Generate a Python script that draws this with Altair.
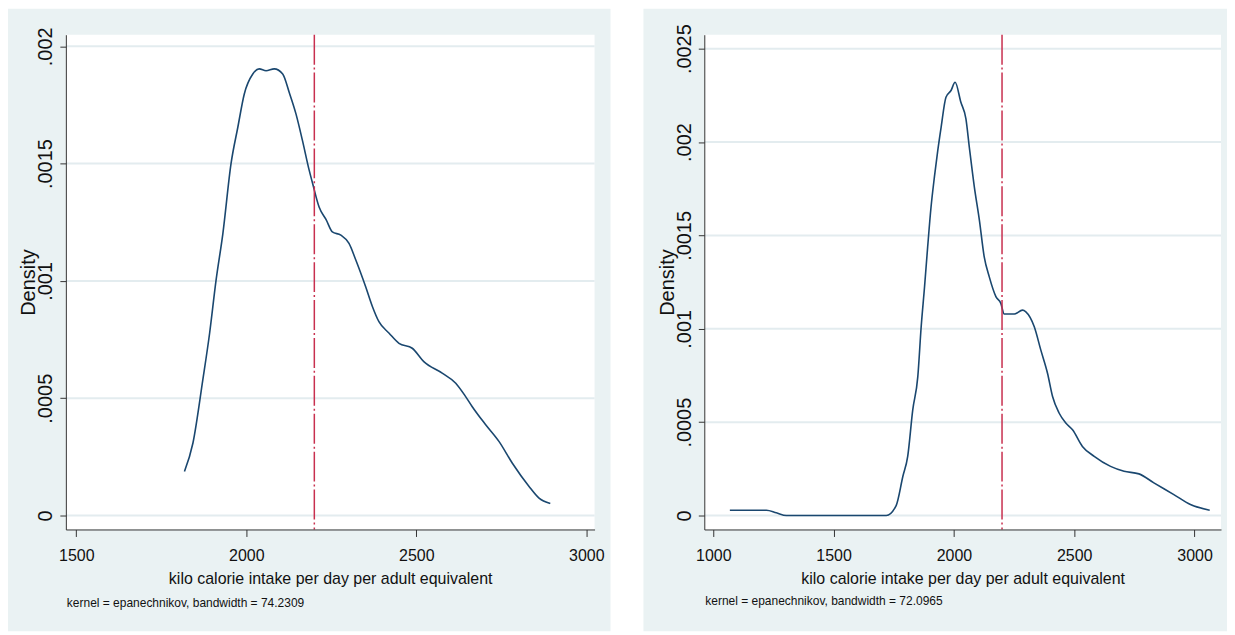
import altair as alt
import pandas as pd

# ---------------- data ----------------
LEFT_KCAL = [1818, 1843, 1872, 1892, 1911, 1931, 1955, 1975, 1994, 2019, 2038, 2058,
             2082, 2107, 2126, 2146, 2165, 2185, 2195, 2214, 2235, 2253, 2278, 2302,
             2322, 2351, 2371, 2390, 2420, 2449, 2488, 2522, 2576, 2616, 2645, 2664,
             2704, 2743, 2782, 2831, 2860, 2894]
LEFT_DENSITY = [0.000188, 0.000309, 0.000578, 0.000777, 0.001003, 0.001202, 0.0015,
                0.001655, 0.001797, 0.001882, 0.001904, 0.001896, 0.001904, 0.001882,
                0.001804, 0.001712, 0.001599, 0.001471, 0.001415, 0.001315, 0.00126,
                0.001209, 0.001195, 0.00116, 0.001089, 0.000975, 0.00089, 0.000826,
                0.000777, 0.000734, 0.000713, 0.000656, 0.000607, 0.000564, 0.000507,
                0.000465, 0.000387, 0.000316, 0.000224, 0.000125, 0.0000752, 0.000051]

RIGHT_KCAL = [1069, 1221, 1262, 1304, 1719, 1760, 1788, 1808, 1829, 1850, 1864, 1878,
              1891, 1905, 1919, 1933, 1947, 1967, 1988, 2005, 2029, 2050, 2064, 2085,
              2106, 2126, 2147, 2175, 2195, 2209, 2251, 2285, 2299, 2334, 2361, 2389,
              2410, 2437, 2465, 2493, 2534, 2583, 2651, 2707, 2769, 2831, 2914, 2983, 3063]
RIGHT_DENSITY = [0.0000283, 0.0000283, 0.0000144, 0.0, 0.0, 0.0000534, 0.00021, 0.000317,
                 0.000566, 0.000744, 0.001011, 0.001225, 0.001439, 0.001652, 0.001813,
                 0.001955, 0.00208, 0.00224, 0.002276, 0.00232, 0.002213, 0.002124,
                 0.001973, 0.001759, 0.001581, 0.001385, 0.001278, 0.001171, 0.001136,
                 0.001079, 0.001079, 0.0011, 0.001091, 0.001011, 0.000887, 0.000762,
                 0.000637, 0.000549, 0.000495, 0.000459, 0.00037, 0.000317, 0.000263,
                 0.000237, 0.000223, 0.000175, 0.000112, 0.0000588, 0.0000283]

LEFT_X_TICKS = [1500, 2000, 2500, 3000]
LEFT_Y_TICKS = [0, 0.0005, 0.001, 0.0015, 0.002]
RIGHT_X_TICKS = [1000, 1500, 2000, 2500, 3000]
RIGHT_Y_TICKS = [0, 0.0005, 0.001, 0.0015, 0.002, 0.0025]

THRESHOLD = [2200]

X_TITLE = "kilo calorie intake per day per adult equivalent"
Y_TITLE = "Density"
LEFT_NOTE = "kernel = epanechnikov, bandwidth = 74.2309"
RIGHT_NOTE = "kernel = epanechnikov, bandwidth = 72.0965"

# ---------------- styling ----------------
BG = "#eaf2f3"
GRID = "#e3ecef"
NAVY = "#1a476f"
RED = "#c8304f"
AXIS = "#333333"
FONT = "Liberation Sans, Arial"

H = 496
LABEL_EXPR = "datum.value == 0 ? '0' : replace(format(datum.value, '.4~f'), '0.', '.')"


def panel(kcal, dens, xt, yt, xdom, ydom, w, note, bg_left, bg_right, note_y):
    curve_df = pd.DataFrame({"kcal": kcal, "density": dens})
    grid_df = pd.DataFrame({"density": yt})
    vline_df = pd.DataFrame({"kcal": THRESHOLD})
    one = alt.Data(values=[{"a": 1}])

    xscale = alt.Scale(domain=xdom, nice=False, zero=False)
    yscale = alt.Scale(domain=ydom, nice=False, zero=False)
    xaxis = alt.Axis(values=xt, title=X_TITLE, grid=False, zindex=1,
                     domainColor=AXIS, tickColor=AXIS, tickSize=7,
                     labelFont=FONT, labelFontSize=16, labelColor="#111",
                     labelBaseline="alphabetic", labelPadding=24,
                     labelFlush=False, labelOverlap=False, format="d",
                     titleFont=FONT, titleFontSize=16, titleFontWeight="normal",
                     titleColor="#111", titleX=w / 2, titleY=54,
                     titleAlign="center", titleBaseline="alphabetic")
    yaxis = alt.Axis(values=yt, title=Y_TITLE, grid=False, zindex=1,
                     domainColor=AXIS, tickColor=AXIS, tickSize=6,
                     labelFont=FONT, labelFontSize=20, labelColor="#111",
                     labelAngle=270, labelAlign="center", labelBaseline="alphabetic",
                     labelPadding=8, labelExpr=LABEL_EXPR, labelOverlap=False,
                     labelFlush=False,
                     titleFont=FONT, titleFontSize=20, titleFontWeight="normal",
                     titleColor="#111", titleAngle=270, titleX=-31, titleY=H / 2,
                     titleAlign="center", titleBaseline="alphabetic")

    bg = alt.Chart(one).mark_rect(fill=BG).encode(
        x=alt.value(-bg_left), x2=alt.value(w + bg_right),
        y=alt.value(-26), y2=alt.value(H + 102))
    plot_bg = alt.Chart(one).mark_rect(fill="white").encode(
        x=alt.value(0), x2=alt.value(w), y=alt.value(0), y2=alt.value(H))
    grid = alt.Chart(grid_df).mark_rule(color=GRID, strokeWidth=2).encode(
        y=alt.Y("density:Q", scale=yscale, axis=yaxis),
        x=alt.value(0), x2=alt.value(w))
    line = alt.Chart(curve_df).mark_line(color=NAVY, strokeWidth=1.6,
                                         interpolate="monotone").encode(
        x=alt.X("kcal:Q", scale=xscale, axis=xaxis),
        y=alt.Y("density:Q", scale=yscale, axis=yaxis),
        order="kcal:Q")
    vline = alt.Chart(vline_df).mark_rule(color=RED, strokeWidth=1.5,
                                          strokeDash=[30, 3, 2, 3]).encode(
        x=alt.X("kcal:Q", scale=xscale, axis=xaxis),
        y=alt.value(0), y2=alt.value(H))
    txt = alt.Chart(one).mark_text(align="left", baseline="middle", font=FONT,
                                   fontSize=12, color="#111").encode(
        x=alt.value(1), y=alt.value(note_y), text=alt.value(note))
    return alt.layer(bg, plot_bg, grid, line, vline, txt).properties(width=w, height=H)


left = panel(LEFT_KCAL, LEFT_DENSITY, LEFT_X_TICKS, LEFT_Y_TICKS,
             [1469.2, 3024.2], [-0.0000595, 0.0020495], 530, LEFT_NOTE, 58, 16, 570)
right = panel(RIGHT_KCAL, RIGHT_DENSITY, RIGHT_X_TICKS, RIGHT_Y_TICKS,
              [962.7, 3110.0], [-0.0000748, 0.0025748], 518, RIGHT_NOTE, 61, 6, 568)

chart = alt.hconcat(left, right, spacing=33).properties(
    padding=0, background="white"
).configure_view(stroke=None)

chart.save("out.html", embed_options={"renderer": "svg", "actions": False})
